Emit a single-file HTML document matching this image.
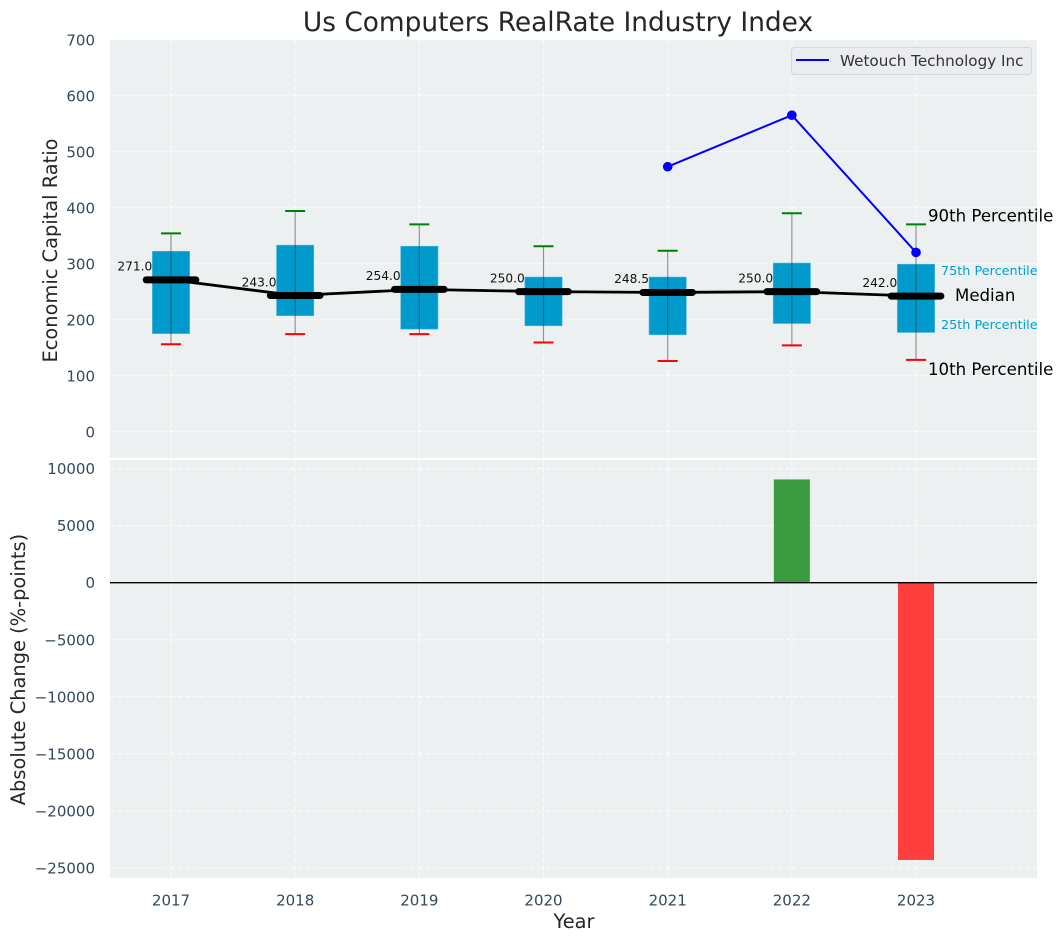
<!DOCTYPE html>
<html>
<head>
<meta charset="utf-8">
<title>Us Computers RealRate Industry Index</title>
<style>
html,body{margin:0;padding:0;background:#fff;}
svg{display:block;font-family:"DejaVu Sans","Liberation Sans",sans-serif;}
</style>
</head>
<body>
<svg id="chart" width="1063" height="942" viewBox="0 0 1063 942" xmlns="http://www.w3.org/2000/svg">
  <rect x="110" y="40" width="927" height="418" fill="#ecf0f1"/>
  <rect x="110" y="460" width="927" height="418" fill="#ecf0f1"/>
  <g id="grid"></g>
  <g id="lower"></g>
  <g id="upper"></g>
  <g id="ticks"></g>
  <text x="558" y="31" text-anchor="middle" font-size="26.4" fill="#262626">Us Computers RealRate Industry Index</text>
  <text transform="translate(57,250.5) rotate(-90)" text-anchor="middle" font-size="19.4" fill="#262626">Economic Capital Ratio</text>
  <text transform="translate(25,669.5) rotate(-90)" text-anchor="middle" font-size="19.4" fill="#262626">Absolute Change (%-points)</text>
  <text x="574" y="928" text-anchor="middle" font-size="19.4" fill="#262626">Year</text>
  <g>
    <rect x="791.5" y="47.5" width="240" height="27" rx="3" fill="#eaecf0" stroke="#d4d6d9" stroke-width="1"/>
    <line x1="796" y1="60" x2="829" y2="60" stroke="#0000ff" stroke-width="2"/>
    <text x="840" y="66" font-size="15.2" fill="#333">Wetouch Technology Inc</text>
  </g>
  <g>
    <text x="928" y="221.5" font-size="16.6" fill="#000">90th Percentile</text>
    <text x="941" y="275" font-size="12.8" fill="#00a0d0">75th Percentile</text>
    <text x="955" y="301" font-size="16.6" fill="#000">Median</text>
    <text x="941" y="329" font-size="12.8" fill="#00a0d0">25th Percentile</text>
    <text x="928" y="375" font-size="16.6" fill="#000">10th Percentile</text>
  </g>
</svg>
<script>
const years = [2017, 2018, 2019, 2020, 2021, 2022, 2023];
const p90 = [354, 394, 370, 331, 323, 390, 370];
const p75 = [322, 333, 331, 276, 276, 301, 299];
const medians = [271, 243, 254, 250, 248.5, 250, 242];
const p25 = [175, 207, 183, 189, 173, 193, 177];
const p10 = [156, 174, 174, 159, 126, 154, 128];
const peerYears = [2021, 2022, 2023];
const peerValues = [473, 565, 320];
const changeYears = [2022, 2023];
const changeValues = [9050, -24300];
const upperTicks = [0, 100, 200, 300, 400, 500, 600, 700];
const lowerTicks = [10000, 5000, 0, -5000, -10000, -15000, -20000, -25000];

const NS = 'http://www.w3.org/2000/svg';
function xS(v){ return 171 + (v - 2017) * 124.17; }
function yU(v){ return 431.6 - v * 0.56; }
function yL(v){ return 582.7 - v * 0.01141; }
function xW(d){ return d * 124.17; }
function mk(parent, tag, attrs, text){
  const el = document.createElementNS(NS, tag);
  for (const k in attrs) el.setAttribute(k, attrs[k]);
  if (text !== undefined) el.textContent = text;
  parent.appendChild(el);
  return el;
}
const grid = document.getElementById('grid');
const upper = document.getElementById('upper');
const lower = document.getElementById('lower');
const ticks = document.getElementById('ticks');
const gridStyle = {stroke:'#ffffff','stroke-width':1,'stroke-dasharray':'5 2.5',opacity:0.85};
const tickStyle = {'font-size':15,fill:'#34495e'};

upperTicks.forEach(function(t){
  const g = mk(grid,'line',Object.assign({x1:110,x2:1037,y1:yU(t),y2:yU(t)},gridStyle));
  
  
  const l = mk(ticks,'text',Object.assign({x:95,y:yU(t)+5.7,'text-anchor':'end'},tickStyle),String(t));
  
  
});
lowerTicks.forEach(function(t){
  const g = mk(grid,'line',Object.assign({x1:110,x2:1037,y1:yL(t),y2:yL(t)},gridStyle));
  
  
  const l = mk(ticks,'text',Object.assign({x:95,y:yL(t)+5.5,'text-anchor':'end'},tickStyle),String(t).replace('-','\u2212'));
  
  
});
years.forEach(function(y){
  const a = mk(grid,'line',Object.assign({x1:xS(y),x2:xS(y),y1:40,y2:458},gridStyle));
  
  
  const b = mk(grid,'line',Object.assign({x1:xS(y),x2:xS(y),y1:460,y2:878},gridStyle));
  
  
  const l = mk(ticks,'text',Object.assign({x:xS(y),y:905.5,'text-anchor':'middle'},tickStyle),String(y));
  
  
});

changeValues.forEach(function(v,i){
  const y = changeYears[i];
  const top = Math.min(yL(0), yL(v));
  const bar = mk(lower,'rect',{x:xS(y)-xW(0.145),y:top,width:xW(0.29),height:Math.abs(yL(v)-yL(0)),fill:v>=0?'#399c3e':'#ff3e3e'});
  
  
});
const zero = mk(lower,'line',{x1:110,x2:1037,y1:yL(0),y2:yL(0),stroke:'#000','stroke-width':1.4});



years.forEach(function(y,i){
  const cx = xS(y);
  const box = mk(upper,'rect',{x:cx-xW(0.15),y:yU(p75[i]),width:xW(0.3),height:yU(p25[i])-yU(p75[i]),fill:'#009acd',stroke:'#4db8dd','stroke-width':0.6});
  
  
});
const medianPath = mk(upper,'polyline',{points:years.map(function(y,i){return xS(y)+','+yU(medians[i]);}).join(' '),fill:'none',stroke:'#000','stroke-width':2.8});


years.forEach(function(y,i){
  const cx = xS(y);
  const whisk = mk(upper,'line',{x1:cx,x2:cx,y1:yU(p90[i]),y2:yU(p10[i]),stroke:'#333','stroke-width':1.2,opacity:0.5});
  
  
  const hi = mk(upper,'line',{x1:cx-10,x2:cx+10,y1:yU(p90[i]),y2:yU(p90[i]),stroke:'#008000','stroke-width':2});
  
  
  const lo = mk(upper,'line',{x1:cx-10,x2:cx+10,y1:yU(p10[i]),y2:yU(p10[i]),stroke:'#ff0000','stroke-width':2});
  
  
  const med = mk(upper,'line',{x1:cx-xW(0.2),x2:cx+xW(0.2),y1:yU(medians[i]),y2:yU(medians[i]),stroke:'#000','stroke-width':7,'stroke-linecap':'round'});
  
  
  const lab = mk(upper,'text',{x:cx-18.7,y:yU(medians[i])-9.2,'text-anchor':'end','font-size':12.2,fill:'#111'},medians[i].toFixed(1));
  
  
});
const peer = mk(upper,'polyline',{points:peerYears.map(function(y,i){return xS(y)+','+yU(peerValues[i]);}).join(' '),fill:'none',stroke:'#0000ff','stroke-width':2});


peerYears.forEach(function(y,i){
  const dot = mk(upper,'circle',{cx:xS(y),cy:yU(peerValues[i]),r:4.8,fill:'#0000ff'});
  
  
});
</script>
</body>
</html>
